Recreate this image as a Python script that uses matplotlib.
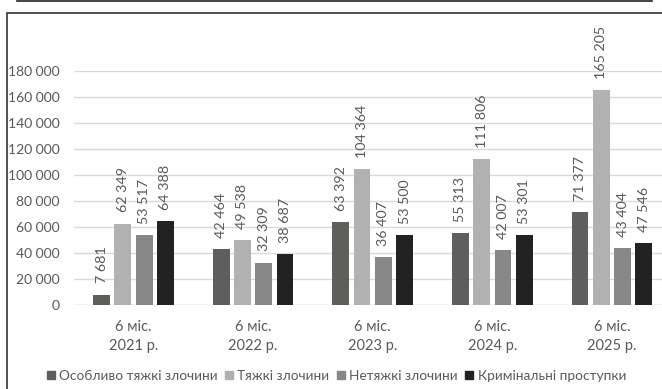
import numpy as np
import matplotlib.pyplot as plt
from matplotlib.lines import Line2D
from matplotlib.patches import Rectangle

plt.rcParams['font.family'] = ['Lato', 'DejaVu Sans']

periods = ["6 міс.\n2021 р.", "6 міс.\n2022 р.", "6 міс.\n2023 р.", "6 міс.\n2024 р.", "6 міс.\n2025 р."]
series_names = ["Особливо тяжкі злочини", "Тяжкі злочини", "Нетяжкі злочини", "Кримінальні проступки"]
especially_grave = [7681, 42464, 63392, 55313, 71377]
grave = [62349, 49538, 104364, 111806, 165205]
minor = [53517, 32309, 36407, 42007, 43404]
misdemeanors = [64388, 38687, 53500, 53301, 47546]
colors = ["#5e5e5c", "#b1b1b1", "#878787", "#222222"]
text_gray = "#595959"

fig = plt.figure(figsize=(6.62, 3.89), dpi=100)
ax = fig.add_axes([73.7 / 662, 0.217, 598 / 662, 0.6015])

x = np.arange(len(periods))
step = 0.178
width = 0.14
all_series = [especially_grave, grave, minor, misdemeanors]
for i, (vals, col) in enumerate(zip(all_series, colors)):
    pos = x + (i - 1.5) * step
    ax.bar(pos, vals, width=width, color=col, zorder=3)
    for p, v in zip(pos, vals):
        ax.annotate(f"{v:,}".replace(",", " "), (p, v), xytext=(0, 8), textcoords="offset points",
                    rotation=90, ha="center", va="bottom", fontsize=10.3, color=text_gray,
                    annotation_clip=False)

ax.set_xlim(-0.5, len(periods) - 0.5)
ax.set_ylim(0, 180000)
ax.set_yticks(np.arange(0, 180001, 20000))
ax.set_yticklabels([f"{t:,}".replace(",", " ") for t in range(0, 180001, 20000)])
ax.set_xticks(x)
ax.set_xticklabels(periods, linespacing=1.45)
ax.tick_params(length=0, colors=text_gray)
ax.tick_params(axis="x", pad=11, labelsize=10.5)
ax.tick_params(axis="y", pad=10, labelsize=10)
ax.yaxis.grid(True, color="#d9d9d9", linewidth=1, zorder=0)
for s in ax.spines.values():
    s.set_visible(False)
ax.axhline(0, color="#d9d9d9", linewidth=1, zorder=1)

handles = [Line2D([], [], marker="s", linestyle="none", markersize=5.5,
                  markerfacecolor=c, markeredgecolor=c) for c in colors]
fig.legend(handles, series_names, loc="center", bbox_to_anchor=(0.508, 1 - 376 / 389),
           ncol=4, frameon=False, fontsize=9.8, handlelength=0.6, handletextpad=0.3,
           columnspacing=0.55, labelcolor=text_gray)

# outer frame and the rule above it
fig.add_artist(Line2D([17 / 662, 652 / 662], [1 - 1 / 389, 1 - 1 / 389], color="#222222", linewidth=1.2))
fig.add_artist(Rectangle((7 / 662, -0.05), 1.0, 1 - 13 / 389 + 0.05, fill=False,
                         edgecolor="#333333", linewidth=1.2))

fig.savefig("out.png", dpi=100)
